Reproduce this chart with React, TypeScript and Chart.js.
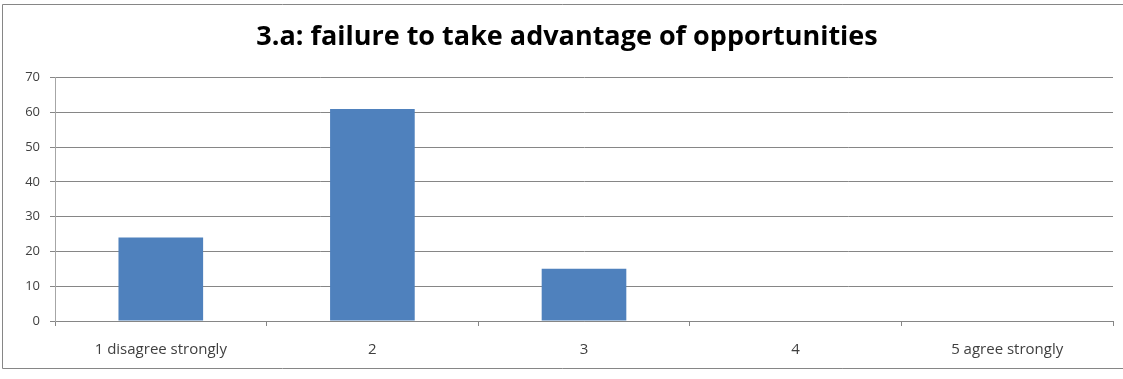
import React, { useEffect, useRef } from "react";
import { Chart, registerables } from "chart.js";

Chart.register(...registerables);

const chartTitle = "3.a: failure to take advantage of opportunities";
const categories = ["1 disagree strongly", "2", "3", "4", "5 agree strongly"];
const responses = [24, 61, 15, 0, 0];
const yMax = 70;
const yStep = 10;

const borderPlugin = {
  id: "outerBorder",
  afterDraw(chart: any) {
    const ctx = chart.ctx;
    ctx.save();
    ctx.strokeStyle = "#868686";
    ctx.lineWidth = 1;
    ctx.beginPath();
    ctx.moveTo(1123, 4.5);
    ctx.lineTo(2.5, 4.5);
    ctx.lineTo(2.5, 368.5);
    ctx.lineTo(1123, 368.5);
    ctx.stroke();
    ctx.restore();
  },
};

export default function App() {
  const ref = useRef<HTMLCanvasElement>(null);
  useEffect(() => {
    document.body.style.margin = "0";
    const chart = new Chart(ref.current as HTMLCanvasElement, {
      type: "bar",
      data: {
        labels: categories,
        datasets: [
          {
            data: responses,
            backgroundColor: "#4F81BD",
            borderWidth: 0,
            barPercentage: 0.4,
            categoryPercentage: 1,
          },
        ],
      },
      plugins: [borderPlugin],
      options: {
        animation: false,
        responsive: false,
        maintainAspectRatio: false,
        layout: { padding: { left: 21, right: 10, top: 0, bottom: 0 } },
        plugins: {
          legend: { display: false },
          tooltip: { enabled: false },
          title: {
            display: true,
            text: chartTitle,
            color: "#000000",
            font: { family: "'Open Sans', sans-serif", size: 27, weight: "bold", lineHeight: 1.2 },
            padding: { top: 21, bottom: 24.3 },
          },
        },
        scales: {
          x: {
            grid: {
              display: true,
              drawOnChartArea: false,
              drawTicks: true,
              tickLength: 5,
              color: "#868686",
              offset: true,
            },
            border: { display: true, color: "#868686" },
            ticks: {
              color: "#404040",
              font: { family: "'Open Sans', sans-serif", size: 15 },
              padding: 15,
              maxRotation: 0,
            },
            afterFit(scale: any) {
              scale.height = 58;
            },
          },
          y: {
            min: 0,
            max: yMax,
            ticks: {
              stepSize: yStep,
              color: "#404040",
              font: { family: "'Open Sans', sans-serif", size: 13 },
              padding: 10,
            },
            grid: {
              color: "#868686",
              tickLength: 5,
            },
            border: { display: true, color: "#A6A6A6" },
            afterFit(scale: any) {
              scale.width = 34;
            },
          },
        },
      },
    });
    return () => chart.destroy();
  }, []);
  return (
    <div style={{ width: 1123, height: 379 }}>
      <canvas ref={ref} width={1123} height={379} style={{ display: "block" }} />
    </div>
  );
}
